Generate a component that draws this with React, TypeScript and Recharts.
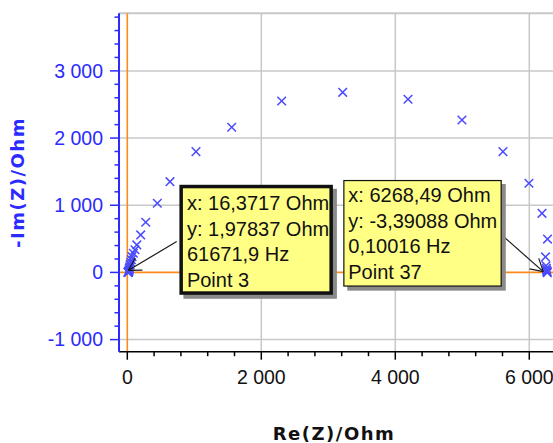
import React from "react";
import {
  ScatterChart,
  Scatter,
  XAxis,
  YAxis,
  CartesianGrid,
  ReferenceLine,
  ReferenceDot,
} from "recharts";

// Nyquist data, Re(Z) and -Im(Z) in Ohm
const RE_Z = [
  9.5, 12.6, 16.3717, 18, 20, 23, 27, 31, 36, 42, 50, 60, 70, 90, 115, 142, 200,
  275, 448, 637, 1025, 1558, 2304, 3215, 4190, 4995, 5607, 5995, 6190, 6272,
  6242, 6250, 6255, 6260, 6263, 6266, 6268.49,
];
const IM_Z = [
  0.8, 1.3, 1.97837, 6, 14, 25, 40, 60, 85, 115, 150, 190, 236, 286, 338, 409,
  558, 747, 1030, 1351, 1798, 2161, 2552, 2681, 2577, 2269, 1798, 1327, 880, 496,
  231, 100, 60, 35, 18, 7, -3.39088,
];

const X_DOMAIN = [-124, 6354];
const Y_DOMAIN = [-1180, 3857];
const X_TICKS = [0, 400, 800, 1200, 1600, 2000, 2400, 2800, 3200, 3600, 4000, 4400, 4800, 5200, 5600, 6000];
const X_LABELED = [0, 2000, 4000, 6000];
const Y_TICKS = [
  -1000, -800, -600, -400, -200, 0, 200, 400, 600, 800, 1000, 1200, 1400, 1600,
  1800, 2000, 2200, 2400, 2600, 2800, 3000, 3200, 3400, 3600, 3800,
];
const Y_LABELED = [-1000, 0, 1000, 2000, 3000];
const H_GRID = [-1000, 1000, 2000, 3000];
const V_GRID = [2000, 4000, 6000];

const CALLOUT_A = ["x: 16,3717 Ohm", "y: 1,97837 Ohm", "61671,9 Hz", "Point 3"];
const CALLOUT_B = ["x: 6268,49 Ohm", "y: -3,39088 Ohm", "0,10016 Hz", "Point 37"];

const BLUE = "#2b2bff";
const MARK = "#4a4aff";
const ORANGE = "#ff8a1c";
const GRID = "#c8c8c8";
const FONT = "'Liberation Sans', Arial, sans-serif";

const data = RE_Z.map((re, i) => ({ re, im: IM_Z[i] }));

const fmt = (v: number) => {
  if (v === 0) return "0";
  const a = Math.abs(v);
  const th = Math.floor(a / 1000);
  const rest = String(a % 1000).padStart(3, "0");
  return (v < 0 ? "-" : "") + th + " " + rest;
};

const Cross = (props: any) => {
  const { cx, cy } = props;
  const s = 4.3;
  return (
    <g stroke={MARK} strokeWidth={1.5}>
      <line x1={cx - s} y1={cy - s} x2={cx + s} y2={cy + s} />
      <line x1={cx - s} y1={cy + s} x2={cx + s} y2={cy - s} />
    </g>
  );
};

const YTick = (props: any) => {
  const { x, y, payload } = props;
  const major = Y_LABELED.includes(payload.value);
  return (
    <g>
      <line x1={x - (major ? 9 : 4.5)} x2={x} y1={y} y2={y} stroke={BLUE} strokeWidth={1.5} />
      {major && (
        <text x={x - 16} y={y} dy="0.35em" textAnchor="end" fill={BLUE} fontSize={19.5} fontFamily={FONT}>
          {fmt(payload.value)}
        </text>
      )}
    </g>
  );
};

const XTick = (props: any) => {
  const { x, y, payload } = props;
  const major = X_LABELED.includes(payload.value);
  return (
    <g>
      <line x1={x} x2={x} y1={y} y2={y + (major ? 8 : 4.5)} stroke="#000" strokeWidth={1.5} />
      {major && (
        <text x={x} y={y + 32} textAnchor="middle" fill="#111" fontSize={19.5} fontFamily={FONT}>
          {fmt(payload.value)}
        </text>
      )}
    </g>
  );
};

const Arrow = ({ x1, y1, x2, y2 }: any) => {
  const ang = Math.atan2(y1 - y2, x1 - x2);
  const len = 14;
  const w = 0.52;
  return (
    <g stroke="#1a1a1a" strokeWidth={1.2} fill="none">
      <line x1={x1} y1={y1} x2={x2} y2={y2} />
      <line x1={x2} y1={y2} x2={x2 + len * Math.cos(ang + w)} y2={y2 + len * Math.sin(ang + w)} />
      <line x1={x2} y1={y2} x2={x2 + len * Math.cos(ang - w)} y2={y2 + len * Math.sin(ang - w)} />
    </g>
  );
};

const Callout = (props: any) => {
  const { cx, cy, cfg } = props;
  const bx = cx + cfg.dx;
  const by = cy + cfg.dy;
  const b = cfg.border;
  return (
    <g>
      <Arrow x1={cx + cfg.ax} y1={cy + cfg.ay} x2={cx + cfg.tx} y2={cy + cfg.ty} />
      <rect x={bx + 4} y={by + 4} width={cfg.w} height={cfg.h} fill="#8a8a8a" />
      <defs>
        <clipPath id={cfg.id}>
          <rect x={bx + b} y={by + b} width={cfg.w - 2 * b} height={cfg.h - 2 * b} />
        </clipPath>
      </defs>
      <rect
        x={bx + b / 2}
        y={by + b / 2}
        width={cfg.w - b}
        height={cfg.h - b}
        fill="#ffff86"
        stroke="#111"
        strokeWidth={b}
      />
      <g clipPath={`url(#${cfg.id})`}>
        {cfg.lines.map((t: string, i: number) => (
          <text
            key={t}
            x={bx + cfg.px}
            y={by + cfg.py + i * cfg.lh}
            fontSize={20}
            fontFamily={FONT}
            fill="#111"
          >
            {t}
          </text>
        ))}
      </g>
    </g>
  );
};

const CFG_A = {
  id: "clipA", dx: 51, dy: -87.5, w: 153.5, h: 110, border: 3.5,
  px: 7.5, py: 25, lh: 25.8, ax: 48.3, ay: -30.7, tx: 0, ty: -2, lines: CALLOUT_A,
};
const CFG_B = {
  id: "clipB", dx: -204, dy: -92.7, w: 158.5, h: 106.7, border: 1.2,
  px: 5, py: 22, lh: 25.6, ax: -45.6, ay: -37.7, tx: -4, ty: -1, lines: CALLOUT_B,
};

export default function App() {
  return (
    <div style={{ position: "absolute", left: 0, top: 0, width: 553, height: 443, overflow: "hidden", background: "#fff" }}>
      <ScatterChart width={553} height={443} margin={{ top: 13.3, right: 0, bottom: 0, left: 0 }}>
        <CartesianGrid stroke={GRID} strokeWidth={1.5} horizontalValues={H_GRID} verticalValues={V_GRID} />
        <ReferenceLine y={Y_DOMAIN[1]} stroke={GRID} strokeWidth={2} />
        <XAxis
          type="number"
          dataKey="re"
          domain={X_DOMAIN}
          ticks={X_TICKS}
          allowDataOverflow
          height={91.3}
          tickSize={0}
          tickMargin={0}
          tickLine={false}
          axisLine={{ stroke: "#000", strokeWidth: 1.5 }}
          tick={<XTick />}
          interval={0}
          label={{
            content: (p: any) => {
              const vb = p.viewBox;
              return (
                <text
                  x={vb.x + vb.width / 2 - 2}
                  y={vb.y + 88}
                  textAnchor="middle"
                  fontSize={18}
                  fontWeight="bold"
                  letterSpacing={1.5}
                  fontFamily="'DejaVu Sans', Verdana, sans-serif"
                  fill="#111"
                >
                  Re(Z)/Ohm
                </text>
              );
            },
          }}
        />
        <YAxis
          type="number"
          dataKey="im"
          domain={Y_DOMAIN}
          ticks={Y_TICKS}
          allowDataOverflow
          width={119}
          tickSize={0}
          tickMargin={0}
          tickLine={false}
          axisLine={{ stroke: BLUE, strokeWidth: 2 }}
          tick={<YTick />}
          interval={0}
          label={{
            content: (p: any) => {
              const vb = p.viewBox;
              const cy = vb.y + vb.height / 2;
              return (
                <text
                  x={18}
                  y={cy}
                  transform={`rotate(-90 18 ${cy})`}
                  textAnchor="middle"
                  dy="0.35em"
                  fontSize={18}
                  fontWeight="bold"
                  letterSpacing={1.5}
                  fontFamily="'DejaVu Sans', Verdana, sans-serif"
                  fill={BLUE}
                >
                  -Im(Z)/Ohm
                </text>
              );
            },
          }}
        />
        <ReferenceLine x={0} stroke={ORANGE} strokeWidth={1.6} />
        <ReferenceLine y={0} stroke={ORANGE} strokeWidth={1.6} />
        <Scatter data={data} shape={<Cross />} isAnimationActive={false} />
        <ReferenceDot
          x={RE_Z[2]}
          y={IM_Z[2]}
          r={0}
          shape={(p: any) => <Callout {...p} cfg={CFG_A} />}
        />
        <ReferenceDot
          x={RE_Z[36]}
          y={IM_Z[36]}
          r={0}
          shape={(p: any) => <Callout {...p} cfg={CFG_B} />}
        />
      </ScatterChart>
    </div>
  );
}
